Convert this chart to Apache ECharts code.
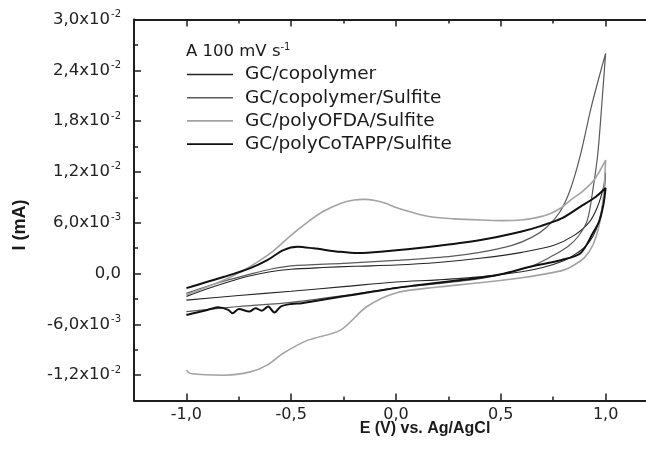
<!DOCTYPE html>
<html>
<head>
<meta charset="utf-8">
<script src="https://cdn.jsdelivr.net/npm/echarts@6/dist/echarts.min.js"></script>
<style>
html,body{margin:0;padding:0;background:#fff;}
#c{width:646px;height:460px;}
</style>
</head>
<body>
<div id="c"></div>
<script>
// ---------- data (E in V vs Ag/AgCl, I in mA) ----------
const seriesNames = ['GC/copolymer', 'GC/copolymer/Sulfite', 'GC/polyOFDA/Sulfite', 'GC/polyCoTAPP/Sulfite'];

const E_copolymer = [-1.0, -0.9, -0.8, -0.7, -0.6, -0.5, -0.35, -0.2, 0.0, 0.2, 0.4, 0.6, 0.75, 0.85, 0.92, 0.96, 0.99, 1.0,
  0.99, 0.97, 0.94, 0.9, 0.85, 0.8, 0.7, 0.6, 0.4, 0.2, 0.0, -0.25, -0.5, -0.75, -1.0];
const I_copolymer = [-0.0027, -0.0018, -0.0010, -0.0003, 0.0002, 0.0005, 0.0007, 0.00085, 0.0010, 0.0013, 0.0018, 0.0025, 0.0033, 0.0045, 0.0060, 0.0078, 0.0102, 0.0119,
  0.0088, 0.0063, 0.0044, 0.0031, 0.0022, 0.0015, 0.0007, 0.0002, -0.0004, -0.00075, -0.0010, -0.00155, -0.0021, -0.0026, -0.00314];

const E_copolymerSulfite = [-1.0, -0.9, -0.8, -0.7, -0.6, -0.5, -0.25, 0.0, 0.25, 0.4, 0.55, 0.65, 0.72, 0.78, 0.83, 0.88, 0.93, 0.97, 1.0,
  0.985, 0.963, 0.94, 0.913, 0.87, 0.82, 0.74, 0.64, 0.5, 0.4, 0.2, 0.0, -0.25, -0.5, -0.75, -1.0];
const I_copolymerSulfite = [-0.00235, -0.0015, -0.00075, -0.0001, 0.0005, 0.0009, 0.0012, 0.00155, 0.0020, 0.0025, 0.0033, 0.0043, 0.0055, 0.0072, 0.0098, 0.0140, 0.0195, 0.0233, 0.0260,
  0.0210, 0.0142, 0.0100, 0.0063, 0.0044, 0.0032, 0.0020, 0.0008, -0.0001, -0.0006, -0.0012, -0.0017, -0.0026, -0.0034, -0.0039, -0.0045];

const E_polyOFDA = [-1.0, -0.9, -0.82, -0.74, -0.66, -0.58, -0.5, -0.42, -0.35, -0.265, -0.2, -0.15, -0.1, -0.05, 0.0, 0.08, 0.165, 0.28, 0.404, 0.5, 0.595, 0.67, 0.738, 0.79, 0.833, 0.89, 0.945, 1.0,
  0.99, 0.97, 0.94, 0.9, 0.85, 0.8, 0.7, 0.6, 0.4, 0.2, 0.0, -0.14, -0.265, -0.42, -0.54, -0.615, -0.695, -0.82, -0.98, -1.0];
const I_polyOFDA = [-0.00255, -0.00157, -0.00078, 0.0002, 0.00138, 0.00277, 0.00454, 0.00611, 0.00729, 0.00828, 0.00868, 0.00876, 0.00862, 0.00830, 0.00780, 0.00720, 0.0067, 0.00645, 0.00631, 0.00625, 0.00631, 0.00660, 0.0071, 0.0078, 0.00867, 0.0097, 0.01104, 0.0134,
  0.0092, 0.0058, 0.0034, 0.0019, 0.0010, 0.0004, -0.0001, -0.0005, -0.0011, -0.0016, -0.0023, -0.00393, -0.00669, -0.00787, -0.00945, -0.01082, -0.01162, -0.01201, -0.01181, -0.01142];

const E_polyCoTAPP = [-1.0, -0.82, -0.695, -0.614, -0.537, -0.47, -0.394, -0.265, -0.184, -0.074, 0.165, 0.404, 0.595, 0.69, 0.79, 0.88, 0.95, 1.0,
  0.99, 0.97, 0.94, 0.88, 0.79, 0.64, 0.5, 0.4, 0.3, 0.2, 0.1, 0.0, -0.1, -0.2, -0.3, -0.4, -0.45, -0.5, -0.55, -0.58, -0.61, -0.64, -0.67, -0.7, -0.75, -0.78, -0.8, -0.85, -0.9, -0.95, -1.0];
const I_polyCoTAPP = [-0.00173, -0.00039, 0.00064, 0.00158, 0.00277, 0.00316, 0.00297, 0.00256, 0.00241, 0.00256, 0.00316, 0.00395, 0.00493, 0.0056, 0.0065, 0.0079, 0.0090, 0.0101,
  0.0082, 0.0062, 0.0048, 0.0024, 0.0016, 0.0008, -0.0001, -0.0005, -0.0008, -0.0011, -0.0014, -0.0017, -0.0021, -0.0025, -0.0029, -0.0033, -0.0035, -0.0036, -0.0039, -0.0046, -0.0039, -0.0044, -0.0041, -0.0045, -0.0042, -0.0047, -0.0043, -0.0040, -0.0043, -0.0046, -0.0049];

// axis ticks
const xMajorTicks = [-1.0, -0.5, 0.0, 0.5, 1.0];
const xMinorTicks = [-0.75, -0.25, 0.25, 0.75];
const yMajorTicks = [-0.012, -0.006, 0.0, 0.006, 0.012, 0.018, 0.024, 0.030];
const yMinorTicks = [-0.009, -0.003, 0.003, 0.009, 0.015, 0.021, 0.027];

const seriesColors = ['#262626', '#5a5a5a', '#a3a3a3', '#111111'];
const seriesWidths = [1.1, 1.2, 1.6, 2.0];

// ---------- chart ----------
function zip(a, b) { return a.map((v, i) => [v, b[i]]); }
const allData = [
  zip(E_copolymer, I_copolymer),
  zip(E_copolymerSulfite, I_copolymerSulfite),
  zip(E_polyOFDA, I_polyOFDA),
  zip(E_polyCoTAPP, I_polyCoTAPP)
];

const AX = '#1e1e1e';
const X_MIN = -1.25, X_MAX = 1.25, Y_MIN = -0.015, Y_MAX = 0.030;

function xFmt(v) { return v.toFixed(1).replace('.', ','); }
function yFmt(v) {
  if (Math.abs(v) < 1e-12) return '{m|0,0}';
  const e = Math.floor(Math.log10(Math.abs(v)) + 1e-9);
  const m = v / Math.pow(10, e);
  return '{m|' + m.toFixed(1).replace('.', ',') + 'x10}{e|' + e + '}';
}

function xAxisDef(pos, ticks, len, showLine, showLabel) {
  return {
    type: 'value', position: pos, min: X_MIN, max: X_MAX,
    axisLine: { show: showLine, onZero: false, lineStyle: { color: AX, width: 2 } },
    axisTick: { show: true, inside: true, length: len, customValues: ticks, lineStyle: { color: AX, width: 1.5 } },
    axisLabel: { show: showLabel, customValues: ticks, formatter: xFmt, margin: 6,
      fontFamily: 'DejaVu Sans', fontSize: 16, color: '#222' },
    splitLine: { show: false }
  };
}
function yAxisDef(pos, ticks, len, showLine, showLabel) {
  return {
    type: 'value', position: pos, min: Y_MIN, max: Y_MAX,
    axisLine: { show: showLine, onZero: false, lineStyle: { color: AX, width: 2 } },
    axisTick: { show: true, inside: true, length: len, customValues: ticks, lineStyle: { color: AX, width: 1.5 } },
    axisLabel: { show: showLabel, customValues: ticks, formatter: yFmt, margin: 13,
      rich: {
        m: { fontFamily: 'DejaVu Sans', fontSize: 16.5, color: '#222', lineHeight: 20 },
        e: { fontFamily: 'DejaVu Sans', fontSize: 10, color: '#222', verticalAlign: 'top', lineHeight: 11, padding: [0, 0, 0, 1] }
      } },
    splitLine: { show: false }
  };
}

const legendIcon = 'rect';

const chart = echarts.init(document.getElementById('c'), null, { renderer: 'canvas' });
chart.setOption({
  animation: false,
  backgroundColor: '#fff',
  grid: { left: 134, top: 19.5, width: 524, height: 381, containLabel: false, outerBoundsMode: 'none' },
  xAxis: [
    xAxisDef('bottom', xMajorTicks, 7, true, true),
    xAxisDef('bottom', xMinorTicks, 4, false, false),
    xAxisDef('top', xMajorTicks, 7, true, false),
    xAxisDef('top', xMinorTicks, 4, false, false)
  ],
  yAxis: [
    yAxisDef('left', yMajorTicks, 7, true, true),
    yAxisDef('left', yMinorTicks, 4, false, false)
  ],
  legend: {
    orient: 'vertical', left: 187, top: 64.5, padding: 0, itemGap: 3.2,
    itemWidth: 46, itemHeight: 1.6, selectedMode: false, icon: legendIcon,
    data: seriesNames,
    textStyle: { fontFamily: 'DejaVu Sans', fontSize: 18.5, color: '#1a1a1a', lineHeight: 20, padding: [0, 0, 0, 7] }
  },
  graphic: [
    { type: 'text', left: 186, top: 42, style: {
        text: '{a|A 100 mV s}{e|-1}',
        rich: {
          a: { fontFamily: 'DejaVu Sans', fontSize: 16.5, fill: '#1a1a1a', lineHeight: 20 },
          e: { fontFamily: 'DejaVu Sans', fontSize: 10, fill: '#1a1a1a', verticalAlign: 'top', lineHeight: 11 }
        } } },
    { type: 'text', x: 425, y: 429, style: {
        text: 'E (V) vs. Ag/AgCl', fontFamily: 'Liberation Sans', fontWeight: 'bold', fontSize: 16,
        fill: '#1a1a1a', align: 'center', verticalAlign: 'middle' } },
    { type: 'text', x: 20, y: 225, rotation: Math.PI / 2, style: {
        text: 'I (mA)', fontFamily: 'Liberation Sans', fontWeight: 'bold', fontSize: 18,
        fill: '#1a1a1a', align: 'center', verticalAlign: 'middle' } }
  ],
  series: seriesNames.map((n, i) => ({
    name: n, type: 'line', xAxisIndex: 0, yAxisIndex: 0,
    data: allData[i], symbol: 'none', smooth: 0.3,
    lineStyle: { color: seriesColors[i], width: seriesWidths[i] },
    itemStyle: { color: seriesColors[i] },
    z: 2 + i
  }))
});
</script>
</body>
</html>
